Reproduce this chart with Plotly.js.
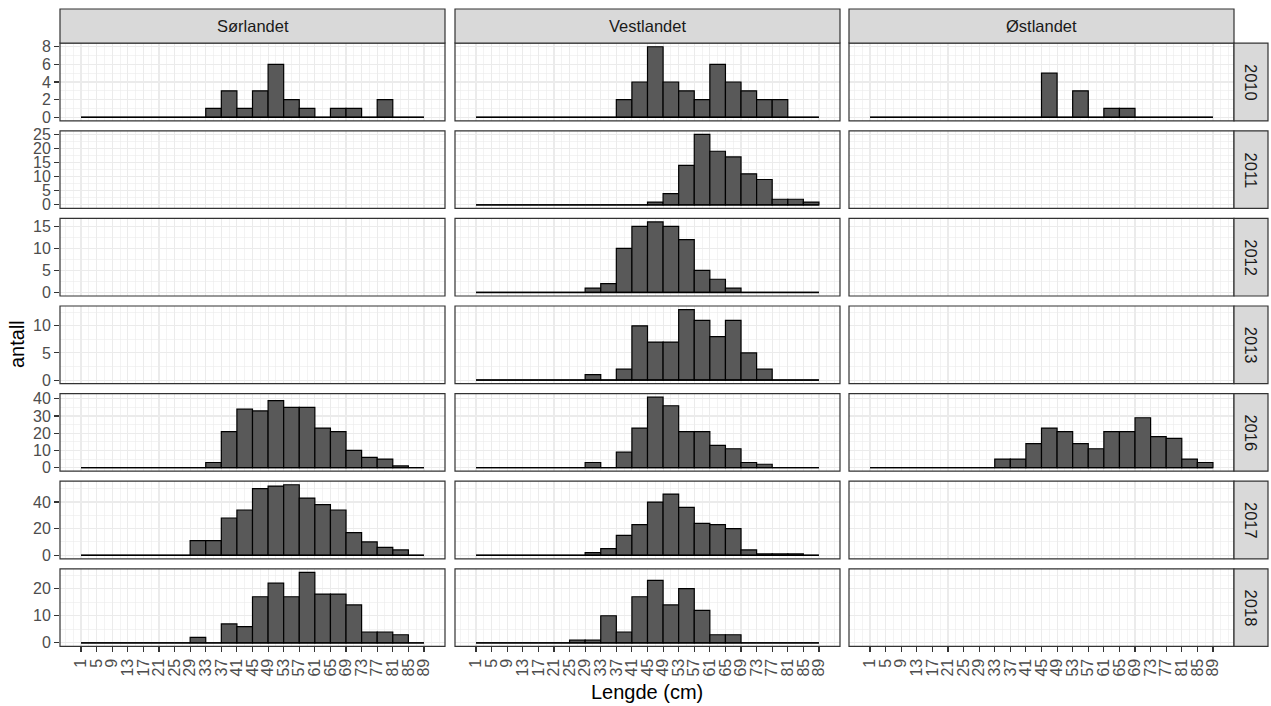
<!DOCTYPE html>
<html><head><meta charset="utf-8">
<script src="https://cdn.plot.ly/plotly-3.0.1.min.js"></script>
<style>html,body{margin:0;padding:0;background:#fff;} #chart{width:1271px;height:706px;}</style>
</head><body><div id="chart"></div>
<script>
// ---------- DATA ----------
const regions = ["Sørlandet", "Vestlandet", "Østlandet"];
const years = ["2010", "2011", "2012", "2013", "2016", "2017", "2018"];
const binStarts = [1, 5, 9, 13, 17, 21, 25, 29, 33, 37, 41, 45, 49, 53, 57, 61, 65, 69, 73, 77, 81, 85];
const binWidth = 4;
const xTickLabels = ["1","5","9","13","17","21","25","29","33","37","41","45","49","53","57","61","65","69","73","77","81","85","89"];

// counts per bin (bins start at binStarts), null = no data in that panel
const sor2010 = [0,0,0,0,0,0,0,0,1,3,1,3,6,2,1,0,1,1,0,2,0,0];
const ves2010 = [0,0,0,0,0,0,0,0,0,2,4,8,4,3,2,6,4,3,2,2,0,0];
const ost2010 = [0,0,0,0,0,0,0,0,0,0,0,5,0,3,0,1,1,0,0,0,0,0];
const sor2011 = null;
const ves2011 = [0,0,0,0,0,0,0,0,0,0,0,1,4,14,25,19,17,11,9,2,2,1];
const ost2011 = null;
const sor2012 = null;
const ves2012 = [0,0,0,0,0,0,0,1,2,10,15,16,15,12,5,3,1,0,0,0,0,0];
const ost2012 = null;
const sor2013 = null;
const ves2013 = [0,0,0,0,0,0,0,1,0,2,10,7,7,13,11,8,11,5,2,0,0,0];
const ost2013 = null;
const sor2016 = [0,0,0,0,0,0,0,0,3,21,34,33,39,35,35,23,21,10,6,5,1,0];
const ves2016 = [0,0,0,0,0,0,0,3,0,9,23,41,36,21,21,13,11,3,2,0,0,0];
const ost2016 = [0,0,0,0,0,0,0,0,5,5,14,23,21,14,11,21,21,29,18,17,5,3];
const sor2017 = [0,0,0,0,0,0,0,11,11,28,34,50,52,53,43,38,34,17,10,6,4,0];
const ves2017 = [0,0,0,0,0,0,0,2,5,15,23,40,46,36,24,23,20,4,1,1,1,0];
const ost2017 = null;
const sor2018 = [0,0,0,0,0,0,0,2,0,7,6,17,22,17,26,18,18,14,4,4,3,0];
const ves2018 = [0,0,0,0,0,0,1,1,10,4,17,23,14,20,12,3,3,0,0,0,0,0];
const ost2018 = null;

const panelCounts = [
  [sor2010, ves2010, ost2010],
  [sor2011, ves2011, ost2011],
  [sor2012, ves2012, ost2012],
  [sor2013, ves2013, ost2013],
  [sor2016, ves2016, ost2016],
  [sor2017, ves2017, ost2017],
  [sor2018, ves2018, ost2018]
];

// ---------- LAYOUT ----------
const W = 1271, H = 706, mL = 60, mR = 37, mT = 43, mB = 59;
const pw = W - mL - mR, ph = H - mT - mB;
const colPx = [[60, 445], [455, 840], [849, 1234]];
const rowTop0 = 43.2, rowH = 77.6, rowStep = 87.6;
const rowDtick = [2, 5, 5, 5, 10, 20, 10];
const gridCol = '#EBEBEB';
const borderCol = '#333333';
const tickFont = {family: 'Liberation Sans, Arial, sans-serif', size: 16, color: '#4D4D4D'};
const stripFont = {family: 'Liberation Sans, Arial, sans-serif', size: 16.5, color: '#1A1A1A'};
const titleFont = {family: 'Liberation Sans, Arial, sans-serif', size: 20, color: '#000000'};

const px2x = p => (p - mL) / pw;
const py2y = p => 1 - (p - mT) / ph;

const tickVals = xTickLabels.map(Number);
const centers = binStarts.map(b => b + binWidth / 2);

const traces = [];
const layout = {
  width: W, height: H,
  margin: {l: mL, r: mR, t: mT, b: mB, pad: 0},
  paper_bgcolor: '#ffffff', plot_bgcolor: '#ffffff',
  showlegend: false,
  barmode: 'overlay',
  font: {family: 'Liberation Sans, Arial, sans-serif'},
  shapes: [], annotations: []
};

for (let r = 0; r < years.length; r++) {
  const top = rowTop0 + r * rowStep, bot = top + rowH;
  const yDom = [py2y(bot), py2y(top)];
  let M = 0;
  panelCounts[r].forEach(a => { if (a) M = Math.max(M, ...a); });
  for (let c = 0; c < regions.length; c++) {
    const k = r * 3 + c + 1;
    const sfx = k > 1 ? String(k) : '';
    const xDom = [px2x(colPx[c][0]), px2x(colPx[c][1])];
    layout['xaxis' + sfx] = {
      domain: xDom, anchor: 'y' + sfx, range: [-4.4, 94.4],
      tickmode: 'array', tickvals: tickVals, ticktext: xTickLabels,
      showticklabels: r === years.length - 1,
      ticks: r === years.length - 1 ? 'outside' : '', ticklen: 5, tickwidth: 1.1, tickcolor: borderCol,
      tickangle: -90, tickfont: tickFont,
      showgrid: true, gridcolor: gridCol, gridwidth: 1.1,
      minor: {tickmode: 'linear', tick0: 1, dtick: 2, showgrid: true, gridcolor: gridCol, gridwidth: 0.6, ticks: ''},
      showline: false, zeroline: false, fixedrange: true
    };
    layout['yaxis' + sfx] = {
      domain: yDom, anchor: 'x' + sfx, range: [-0.05 * M, 1.05 * M],
      tickmode: 'linear', tick0: 0, dtick: rowDtick[r],
      showticklabels: c === 0,
      ticks: c === 0 ? 'outside' : '', ticklen: 5, tickwidth: 1.1, tickcolor: borderCol,
      tickfont: tickFont,
      showgrid: true, gridcolor: gridCol, gridwidth: 1.1,
      minor: {tickmode: 'linear', tick0: 0, dtick: rowDtick[r] / 2, showgrid: true, gridcolor: gridCol, gridwidth: 0.6, ticks: ''},
      showline: false, zeroline: false, fixedrange: true
    };
    const vals = panelCounts[r][c];
    if (vals) {
      traces.push({
        type: 'bar', x: centers, y: vals, width: binWidth,
        xaxis: 'x' + sfx, yaxis: 'y' + sfx,
        marker: {color: '#595959', line: {color: '#000000', width: 1.2}},
        hoverinfo: 'skip'
      });
      traces.push({
        type: 'scatter', mode: 'lines',
        x: [binStarts[0], binStarts[binStarts.length - 1] + binWidth], y: [0, 0],
        xaxis: 'x' + sfx, yaxis: 'y' + sfx,
        line: {color: '#000000', width: 1.4}, hoverinfo: 'skip'
      });
    } else {
      traces.push({type: 'bar', x: [], y: [], xaxis: 'x' + sfx, yaxis: 'y' + sfx, hoverinfo: 'skip'});
    }
    // panel border
    layout.shapes.push({type: 'rect', xref: 'paper', yref: 'paper',
      x0: xDom[0], x1: xDom[1], y0: yDom[0], y1: yDom[1],
      fillcolor: 'rgba(0,0,0,0)', line: {color: borderCol, width: 1.2}, layer: 'above'});
    // top strips
    if (r === 0) {
      layout.shapes.push({type: 'rect', xref: 'paper', yref: 'paper',
        x0: xDom[0], x1: xDom[1], y0: py2y(mT), y1: py2y(9),
        fillcolor: '#D9D9D9', line: {color: borderCol, width: 1.2}, layer: 'above'});
      layout.annotations.push({xref: 'paper', yref: 'paper', x: (xDom[0] + xDom[1]) / 2, y: py2y(26.5),
        text: regions[c], showarrow: false, font: stripFont, xanchor: 'center', yanchor: 'middle'});
    }
  }
  // right strips
  layout.shapes.push({type: 'rect', xref: 'paper', yref: 'paper',
    x0: px2x(1234), x1: px2x(1268), y0: yDom[0], y1: yDom[1],
    fillcolor: '#D9D9D9', line: {color: borderCol, width: 1.2}, layer: 'above'});
  layout.annotations.push({xref: 'paper', yref: 'paper', x: px2x(1251), y: (yDom[0] + yDom[1]) / 2,
    text: years[r], showarrow: false, font: stripFont, textangle: 90, xanchor: 'center', yanchor: 'middle'});
}

// axis titles
layout.annotations.push({xref: 'paper', yref: 'paper', x: px2x(647), y: py2y(692),
  text: 'Lengde (cm)', showarrow: false, font: titleFont, xanchor: 'center', yanchor: 'middle'});
layout.annotations.push({xref: 'paper', yref: 'paper', x: px2x(17), y: py2y(344),
  text: 'antall', showarrow: false, font: titleFont, textangle: -90, xanchor: 'center', yanchor: 'middle'});

Plotly.newPlot('chart', traces, layout, {staticPlot: true, displayModeBar: false});
</script>
</body></html>
